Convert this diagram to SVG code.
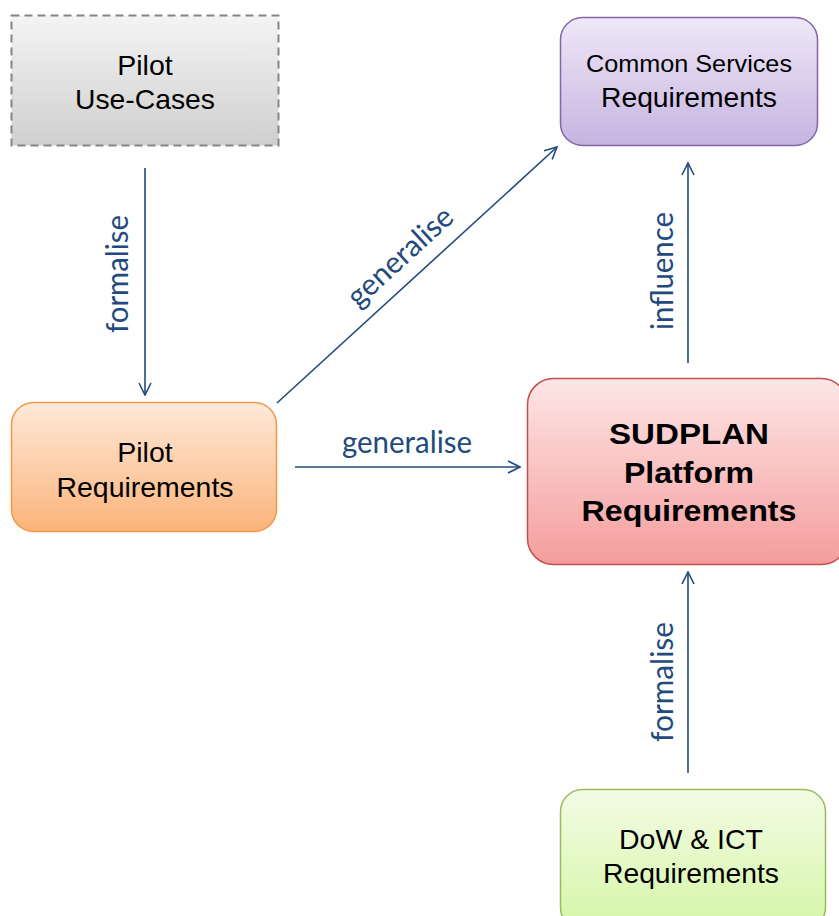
<svg xmlns="http://www.w3.org/2000/svg" width="839" height="916" viewBox="0 0 839 916">
<defs>
<linearGradient id="gGray" x1="0" y1="0" x2="0" y2="1"><stop offset="0" stop-color="#f4f4f4"/><stop offset="1" stop-color="#cfcfcf"/></linearGradient>
<linearGradient id="gPurple" x1="0" y1="0" x2="0" y2="1"><stop offset="0" stop-color="#eee8f7"/><stop offset="1" stop-color="#c6b4e1"/></linearGradient>
<linearGradient id="gOrange" x1="0" y1="0" x2="0" y2="1"><stop offset="0" stop-color="#fee9da"/><stop offset="1" stop-color="#fbb47a"/></linearGradient>
<linearGradient id="gRed" x1="0" y1="0" x2="0" y2="1"><stop offset="0" stop-color="#fde6e6"/><stop offset="1" stop-color="#f59d9d"/></linearGradient>
<linearGradient id="gGreen" x1="0" y1="0" x2="0" y2="1"><stop offset="0" stop-color="#f3fce6"/><stop offset="1" stop-color="#d5f5a6"/></linearGradient>
<marker id="arr" viewBox="0 0 14 14" refX="13" refY="7" markerWidth="14" markerHeight="14" markerUnits="userSpaceOnUse" orient="auto">
<path d="M1,1 L13,7 L1,13" fill="none" stroke="#234a7e" stroke-width="1.6"/>
</marker>
</defs>
<style>
.node text{font-family:"Liberation Sans",Arial,sans-serif;font-size:28.5px;fill:#000;text-anchor:middle}
.conn line{stroke:#234a7e;stroke-width:1.6;marker-end:url(#arr)}
.lbl{font-family:Lato,"Open Sans",sans-serif;font-size:30px;fill:#234a7e;text-anchor:middle}
</style>
<rect width="839" height="916" fill="#fff"/>
<g id="pilot-use-cases" class="node">
<rect x="11.5" y="15.5" width="267" height="130" fill="url(#gGray)" stroke="#858585" stroke-width="2" stroke-dasharray="8,5"/>
<text x="145" y="75">Pilot</text>
<text x="145" y="109" textLength="140" lengthAdjust="spacingAndGlyphs">Use-Cases</text>
</g>
<g id="common-services" class="node">
<rect x="560.5" y="17.5" width="257" height="128" rx="22" fill="url(#gPurple)" stroke="#8466a8" stroke-width="1.5"/>
<text x="689" y="72" style="font-size:24.5px" textLength="206" lengthAdjust="spacingAndGlyphs">Common Services</text>
<text x="689" y="107" textLength="176" lengthAdjust="spacingAndGlyphs">Requirements</text>
</g>
<g id="pilot-requirements" class="node">
<rect x="11.5" y="402.5" width="265" height="129" rx="22" fill="url(#gOrange)" stroke="#f79646" stroke-width="1.5"/>
<text x="145" y="462">Pilot</text>
<text x="145" y="497" textLength="177" lengthAdjust="spacingAndGlyphs">Requirements</text>
</g>
<g id="sudplan" class="node">
<rect x="527.5" y="378.5" width="320" height="186" rx="26" fill="url(#gRed)" stroke="#c0504d" stroke-width="1.5"/>
<text x="689" y="444" style="font-weight:bold;font-size:29px" textLength="160" lengthAdjust="spacingAndGlyphs">SUDPLAN</text>
<text x="689" y="483" style="font-weight:bold;font-size:29px" textLength="130" lengthAdjust="spacingAndGlyphs">Platform</text>
<text x="689" y="521" style="font-weight:bold;font-size:29px" textLength="215" lengthAdjust="spacingAndGlyphs">Requirements</text>
</g>
<g id="dow-ict" class="node">
<rect x="560.5" y="789.5" width="265" height="140" rx="22" fill="url(#gGreen)" stroke="#9bbb59" stroke-width="1.5"/>
<text x="691" y="849" textLength="144" lengthAdjust="spacingAndGlyphs">DoW &amp; ICT</text>
<text x="691" y="883" textLength="176" lengthAdjust="spacingAndGlyphs">Requirements</text>
</g>
<g id="connectors" class="conn">
<line x1="145" y1="168" x2="145" y2="395"/>
<line x1="277" y1="403" x2="557" y2="147"/>
<line x1="295" y1="467" x2="520" y2="467"/>
<line x1="688" y1="363" x2="688" y2="163"/>
<line x1="688" y1="773" x2="688" y2="572"/>
</g>
<g id="labels">
<text class="lbl" transform="translate(128,274) rotate(-90)" textLength="118" lengthAdjust="spacingAndGlyphs">formalise</text>
<text class="lbl" transform="translate(407,264) rotate(-42.4)" textLength="132" lengthAdjust="spacingAndGlyphs">generalise</text>
<text class="lbl" x="407" y="453" textLength="130" lengthAdjust="spacingAndGlyphs">generalise</text>
<text class="lbl" transform="translate(673,271) rotate(-90)" textLength="118" lengthAdjust="spacingAndGlyphs">influence</text>
<text class="lbl" transform="translate(673,682) rotate(-90)" textLength="120" lengthAdjust="spacingAndGlyphs">formalise</text>
</g>
</svg>
